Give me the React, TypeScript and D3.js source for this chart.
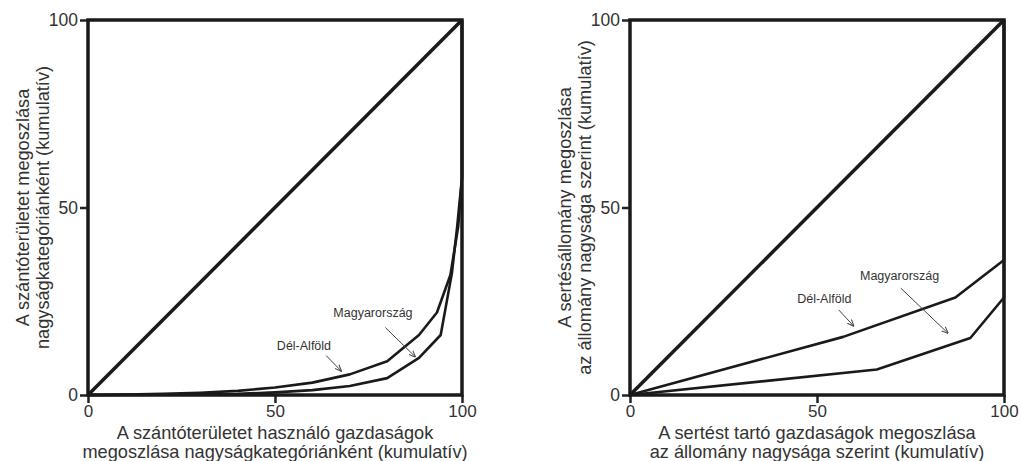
import React, { useRef, useEffect } from "react"
import * as d3 from "d3"

// Lorenz curves, values in cumulative %
const leftDelAlfoldX = [0, 10, 20, 30, 40, 50, 60, 70, 80, 88.5, 93.3, 96.9, 99, 100, 100]
const leftDelAlfoldY = [0, 0.1, 0.3, 0.6, 1.1, 2, 3.3, 5.5, 9, 16, 22, 32, 45, 58, 100]
const leftMagyarX = [0, 20, 40, 50, 60, 70, 80, 88.5, 94.3, 97.3, 98.7, 100, 100]
const leftMagyarY = [0, 0.05, 0.3, 0.7, 1.3, 2.4, 4.5, 9.9, 16, 32.5, 44.8, 58, 100]

const rightDelAlfoldX = [0, 57, 87, 100, 100]
const rightDelAlfoldY = [0, 15.5, 26, 36, 100]
const rightMagyarX = [0, 66, 91, 100, 100]
const rightMagyarY = [0, 6.8, 15.2, 26, 100]

const ticks = [0, 50, 100]

interface Label {
  text: string
  x: number
  y: number
  ax1: number
  ay1: number
  ax2: number
  ay2: number
}

interface Panel {
  left: number
  xTitle: string[]
  yTitle: string[]
  upper: [number[], number[]]
  lower: [number[], number[]]
  labels: Label[]
}

const panels: Panel[] = [
  {
    left: 88,
    xTitle: ["A szántóterületet használó gazdaságok", "megoszlása nagyságkategóriánként (kumulatív)"],
    yTitle: ["A szántóterületet megoszlása", "nagyságkategóriánként (kumulatív)"],
    upper: [leftDelAlfoldX, leftDelAlfoldY],
    lower: [leftMagyarX, leftMagyarY],
    labels: [
      { text: "Magyarország", x: 65.6, y: 21.6, ax1: 79.5, ay1: 18, ax2: 87.5, ay2: 10.2 },
      { text: "Dél-Alföld", x: 50.5, y: 12.8, ax1: 63.7, ay1: 10.5, ax2: 67.7, ay2: 6.4 },
    ],
  },
  {
    left: 630,
    xTitle: ["A sertést tartó gazdaságok megoszlása", "az állomány nagysága szerint (kumulatív)"],
    yTitle: ["A sertésállomány megoszlása", "az állomány nagysága szerint (kumulatív)"],
    upper: [rightDelAlfoldX, rightDelAlfoldY],
    lower: [rightMagyarX, rightMagyarY],
    labels: [
      { text: "Magyarország", x: 61.5, y: 31.5, ax1: 72.4, ay1: 28.5, ax2: 85, ay2: 16.5 },
      { text: "Dél-Alföld", x: 44.7, y: 25.3, ax1: 55.8, ay1: 22.7, ax2: 59.8, ay2: 18.4 },
    ],
  },
]

const App: React.FC = () => {
  const svgRef = useRef<SVGSVGElement | null>(null)

  useEffect(() => {
    const svg = d3.select(svgRef.current)
    svg.selectAll("*").remove()

    const defs = svg.append("defs")
    defs.append("marker")
      .attr("id", "arrow")
      .attr("viewBox", "0 0 10 10")
      .attr("refX", 9)
      .attr("refY", 5)
      .attr("markerWidth", 7)
      .attr("markerHeight", 7)
      .attr("orient", "auto")
      .append("path")
      .attr("d", "M0,1 L10,5 L0,9")
      .attr("fill", "none")
      .attr("stroke", "#444")
      .attr("stroke-width", 1.4)

    const font = "Liberation Sans, Arial, sans-serif"

    panels.forEach(p => {
      const x = d3.scaleLinear().domain([0, 100]).range([p.left, p.left + 374])
      const y = d3.scaleLinear().domain([0, 100]).range([395, 20])
      const g = svg.append("g")

      // ticks
      const xAxis = d3.axisBottom(x).tickValues(ticks).tickSize(8).tickFormat(d3.format("d"))
      const yAxis = d3.axisLeft(y).tickValues(ticks).tickSize(8).tickFormat(d3.format("d"))
      g.append("g").attr("transform", "translate(0,395)").call(xAxis)
        .call(a => a.select(".domain").remove())
        .call(a => a.selectAll(".tick line").attr("stroke", "#222").attr("stroke-width", 2.5))
        .call(a => a.selectAll(".tick text").attr("font-size", 17).attr("font-family", font)
          .attr("fill", "#333").attr("y", 10).attr("dy", "0.71em"))
      g.append("g").attr("transform", `translate(${p.left},0)`).call(yAxis)
        .call(a => a.select(".domain").remove())
        .call(a => a.selectAll(".tick line").attr("stroke", "#222").attr("stroke-width", 2.5))
        .call(a => a.selectAll(".tick text").attr("font-size", 17.5).attr("font-family", font)
          .attr("fill", "#333").attr("x", -10))

      // box
      g.append("rect")
        .attr("x", x(0)).attr("y", y(100))
        .attr("width", x(100) - x(0)).attr("height", y(0) - y(100))
        .attr("fill", "none").attr("stroke", "#1a1a1a").attr("stroke-width", 3.5)

      // equality line
      g.append("line")
        .attr("x1", x(0)).attr("y1", y(0)).attr("x2", x(100)).attr("y2", y(100))
        .attr("stroke", "#1a1a1a").attr("stroke-width", 3.5)

      ;[p.upper, p.lower].forEach(([xs, ys]) => {
        const path = d3.line<number>()
          .x(d => x(d))
          .y((_d, i) => y(ys[i]))
        g.append("path")
          .attr("d", path(xs))
          .attr("fill", "none")
          .attr("stroke", "#1a1a1a")
          .attr("stroke-width", 2.6)
          .attr("stroke-linejoin", "round")
      })

      p.labels.forEach(l => {
        g.append("text")
          .attr("x", x(l.x)).attr("y", y(l.y))
          .attr("font-size", 12.5).attr("font-family", font).attr("fill", "#333")
          .attr("dominant-baseline", "middle")
          .text(l.text)
        g.append("line")
          .attr("x1", x(l.ax1)).attr("y1", y(l.ay1)).attr("x2", x(l.ax2)).attr("y2", y(l.ay2))
          .attr("stroke", "#444").attr("stroke-width", 1)
          .attr("marker-end", "url(#arrow)")
      })

      // axis titles
      const cx = x(50)
      g.append("text")
        .attr("text-anchor", "middle").attr("font-size", 18.2).attr("font-family", font).attr("fill", "#333")
        .selectAll("tspan").data(p.xTitle).join("tspan")
        .attr("x", cx).attr("y", (_d, i) => 439 + i * 19)
        .text(d => d)

      g.append("text")
        .attr("text-anchor", "middle").attr("font-size", 18.2).attr("font-family", font).attr("fill", "#333")
        .attr("transform", `translate(${p.left - 59},${y(50)}) rotate(-90)`)
        .selectAll("tspan").data(p.yTitle).join("tspan")
        .attr("x", 0).attr("y", (_d, i) => i * 20)
        .text(d => d)
    })
  }, [])

  return (
    <div style={{ position: "absolute", left: 0, top: 0 }}>
      <svg ref={svgRef} width={1021} height={461} style={{ display: "block", background: "#fff" }} />
    </div>
  )
}

export default App
